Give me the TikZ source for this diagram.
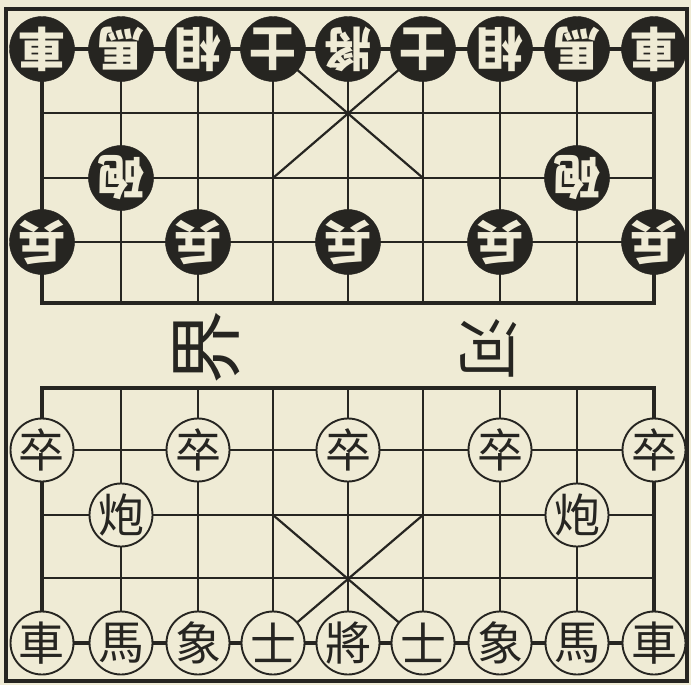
\documentclass[tikz,border=0pt]{standalone}
\usepackage{fontspec}
\newfontfamily\cjk{Noto Sans CJK TC}
\definecolor{paper}{HTML}{EFEBD5}
\definecolor{ink}{HTML}{262521}
\begin{document}
\begin{tikzpicture}[x=1pt,y=-1pt,
 gridline/.style={ink,line width=2.2pt},
 frameline/.style={ink,line width=3.2pt,line join=miter},
 blackpiece/.style={circle,fill=ink,draw=ink,minimum size=65pt,inner sep=0pt,text=paper,font=\cjk\bfseries\fontsize{47}{47}\selectfont,rotate=180},
 whitepiece/.style={circle,fill=paper,draw=ink,line width=1.9pt,minimum size=63pt,inner sep=0pt,text=ink,font=\cjk\fontsize{46}{46}\selectfont},
 rivertext/.style={text=ink,inner sep=0pt}]
\fill[paper] (0,0) rectangle (691,685);
\useasboundingbox (0,0) rectangle (691,685);
\coordinate (fa) at (6,9);
\coordinate (fb) at (687,681);
\draw[frameline,line width=3.6pt] (fa) rectangle (fb);
\foreach \c/\x in {0/42,1/121,2/198,3/273,4/348,5/423,6/500,7/577,8/654}{
  \foreach \r/\y in {0/49,1/113,2/178,3/242,4/303,5/388,6/450,7/515,8/578,9/643}{
    \coordinate (p\c-\r) at (\x,\y);
  }
}
% horizontal lines
\foreach \r in {1,2,3,6,7,8}{\draw[gridline] (p0-\r) -- (p8-\r);}
% vertical lines
\foreach \c in {1,...,7}{\draw[gridline] (p\c-0) -- (p\c-4); \draw[gridline] (p\c-5) -- (p\c-9);}
% half frames
\draw[frameline] (p0-0) -- (p8-0) -- (p8-4) -- (p0-4) -- cycle;
\draw[frameline] (p0-5) -- (p8-5) -- (p8-9) -- (p0-9) -- cycle;
% palaces
\draw[gridline] (p3-0) -- (p5-2);
\draw[gridline] (p5-0) -- (p3-2);
\draw[gridline] (p3-7) -- (p5-9);
\draw[gridline] (p5-7) -- (p3-9);
% black pieces (upside down)
\node[blackpiece] (b0) at (p0-0) {車};
\node[blackpiece] (b1) at (p1-0) {馬};
\node[blackpiece] (b2) at (p2-0) {相};
\node[blackpiece] (b3) at (p3-0) {士};
\node[blackpiece] (b4) at (p4-0) {將};
\node[blackpiece] (b5) at (p5-0) {士};
\node[blackpiece] (b6) at (p6-0) {相};
\node[blackpiece] (b7) at (p7-0) {馬};
\node[blackpiece] (b8) at (p8-0) {車};
\node[blackpiece] (bc1) at (p1-2) {砲};
\node[blackpiece] (bc2) at (p7-2) {砲};
\node[blackpiece] (bs0) at (p0-3) {兵};
\node[blackpiece] (bs2) at (p2-3) {兵};
\node[blackpiece] (bs4) at (p4-3) {兵};
\node[blackpiece] (bs6) at (p6-3) {兵};
\node[blackpiece] (bs8) at (p8-3) {兵};
% white pieces
\node[whitepiece] (ws0) at (p0-6) {卒};
\node[whitepiece] (ws2) at (p2-6) {卒};
\node[whitepiece] (ws4) at (p4-6) {卒};
\node[whitepiece] (ws6) at (p6-6) {卒};
\node[whitepiece] (ws8) at (p8-6) {卒};
\node[whitepiece] (wc1) at (p1-7) {炮};
\node[whitepiece] (wc2) at (p7-7) {炮};
\node[whitepiece] (w0) at (p0-9) {車};
\node[whitepiece] (w1) at (p1-9) {馬};
\node[whitepiece] (w2) at (p2-9) {象};
\node[whitepiece] (w3) at (p3-9) {士};
\node[whitepiece] (w4) at (p4-9) {將};
\node[whitepiece] (w5) at (p5-9) {士};
\node[whitepiece] (w6) at (p6-9) {象};
\node[whitepiece] (w7) at (p7-9) {馬};
\node[whitepiece] (w8) at (p8-9) {車};
% river
\node[rivertext,rotate=90,font=\cjk\fontsize{74}{74}\selectfont] (riverL) at (207,347) {界};
\node[rivertext,rotate=-90,font=\cjk\fontsize{62}{62}\selectfont] (riverR) at (489,348) {河};
\end{tikzpicture}
\end{document}
